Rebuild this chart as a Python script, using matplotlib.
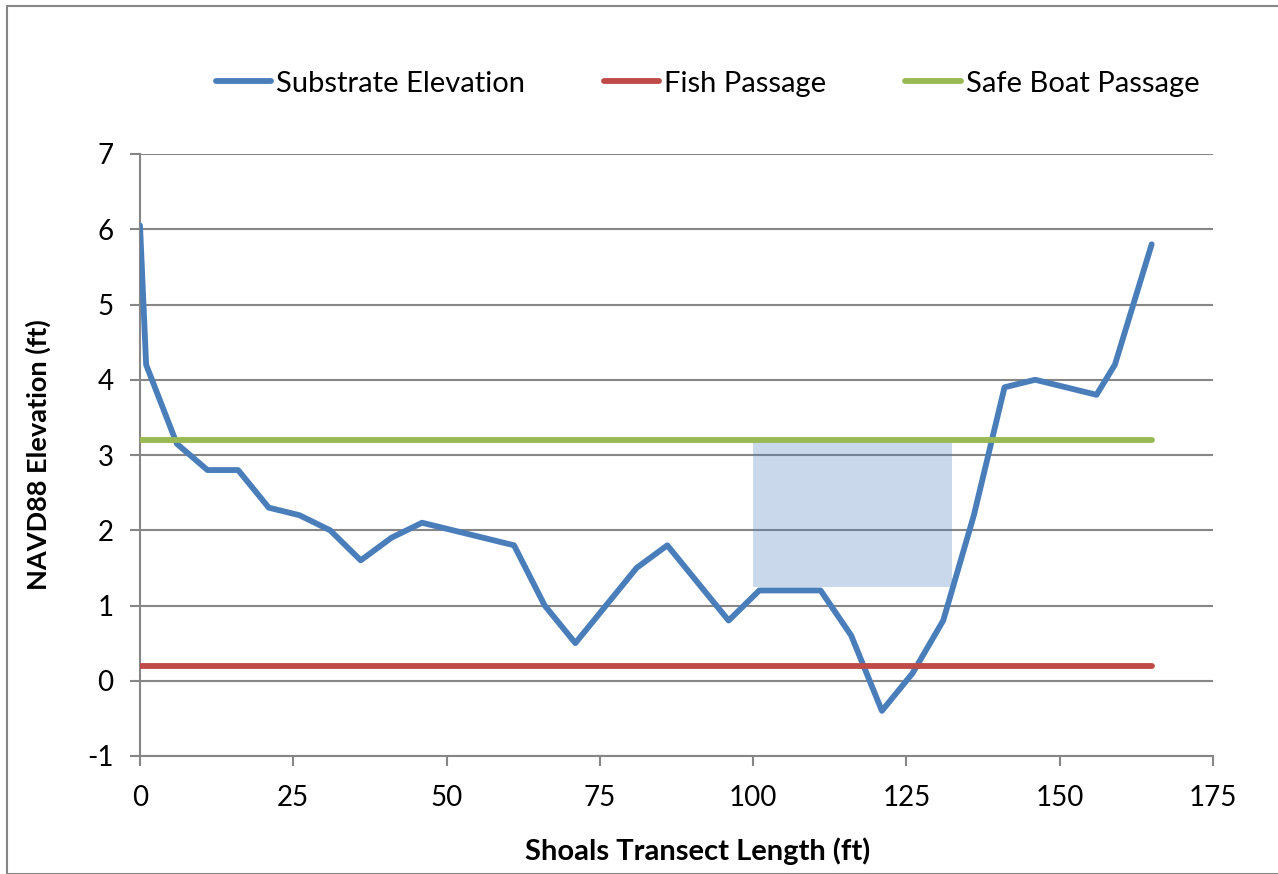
import matplotlib
matplotlib.use("Agg")
import matplotlib.pyplot as plt
from matplotlib.patches import Rectangle

# transect data (ft)
station = [0, 1, 6, 11, 16, 21, 26, 31, 36, 41, 46, 51, 56, 61, 66, 71, 76, 81,
           86, 96, 101, 111, 116, 121, 126, 131, 136, 141, 146, 156, 159, 165]
elevation = [6.05, 4.2, 3.15, 2.8, 2.8, 2.3, 2.2, 2.0, 1.6, 1.9, 2.1, 2.0, 1.9, 1.8,
             1.0, 0.5, 1.0, 1.5, 1.8, 0.8, 1.2, 1.2, 0.6, -0.4, 0.1, 0.8, 2.2, 3.9,
             4.0, 3.8, 4.2, 5.8]

fish_x = [0, 165]
fish_y = [0.2, 0.2]
boat_x = [0, 165]
boat_y = [3.2, 3.2]

# shaded box: x range and y range
box_x = [100, 132.5]
box_y = [1.25, 3.2]

xticks = [0, 25, 50, 75, 100, 125, 150, 175]
yticks = [-1, 0, 1, 2, 3, 4, 5, 6, 7]

plt.rcParams['font.family'] = ['Lato', 'DejaVu Sans']
plt.rcParams['axes.unicode_minus'] = False

fig = plt.figure(figsize=(12.78, 8.74), dpi=100)
ax = fig.add_axes([140/1278, 1-756/874, (1213-140)/1278, (756-154)/874])

# outer chart border
fig.patches.append(Rectangle((6.5/1278, 0), 1.2, 1-5.5/874, transform=fig.transFigure,
                             fill=False, edgecolor='#868686', linewidth=1.5))

ax.add_patch(Rectangle((box_x[0], box_y[0]), box_x[1]-box_x[0], box_y[1]-box_y[0],
                       facecolor='#4F81BD', alpha=0.3, edgecolor='none', zorder=2))

ax.plot(station, elevation, color='#4A7EBB', lw=4.2, label='Substrate Elevation',
        solid_capstyle='round', solid_joinstyle='round', zorder=3)
ax.plot(fish_x, fish_y, color='#BE4B48', lw=4.2, label='Fish Passage',
        solid_capstyle='round', zorder=3)
ax.plot(boat_x, boat_y, color='#98B954', lw=4.2, label='Safe Boat Passage',
        solid_capstyle='round', zorder=3)

ax.set_xlim(0, 175)
ax.set_ylim(-1, 7)
ax.set_xticks(xticks)
ax.set_yticks(yticks)
ax.grid(axis='y', color='#868686', lw=1.5, zorder=1)
ax.set_axisbelow(True)

for s in ['top', 'right']:
    ax.spines[s].set_visible(False)
for s in ['left', 'bottom']:
    ax.spines[s].set_color('#868686')
    ax.spines[s].set_linewidth(1.5)

ax.tick_params(axis='both', colors='#868686', labelcolor='black', labelsize=20,
               length=7, width=1.5, direction='out')
ax.tick_params(axis='y', pad=12)
ax.tick_params(axis='x', pad=14)

ax.set_xlabel('Shoals Transect Length (ft)', fontsize=21, fontweight='bold', labelpad=21)
ax.xaxis.set_label_coords(0.52, -0.135)
ax.set_ylabel('NAVD88 Elevation (ft)', fontsize=19.5, fontweight='bold', labelpad=26)

ax.legend(loc='center', bbox_to_anchor=(0.529, 1.117), ncol=3, frameon=False,
          fontsize=21, handlelength=1.9, handletextpad=0.17, columnspacing=2.7)

fig.savefig('out.png', dpi=100)
